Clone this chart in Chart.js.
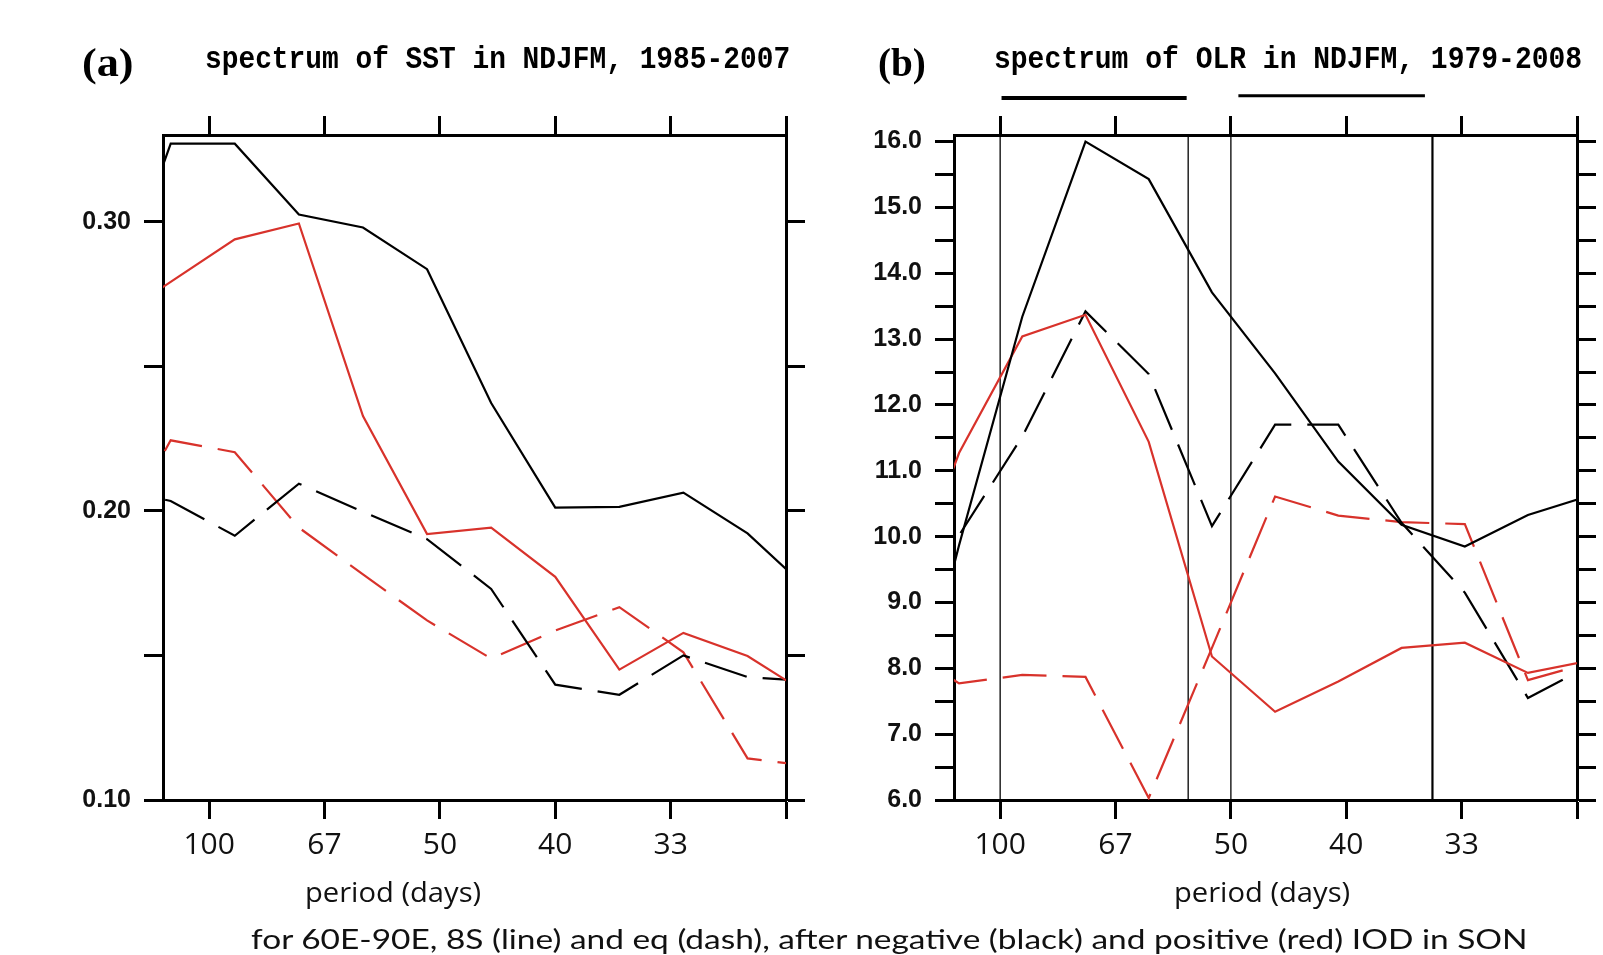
<!DOCTYPE html>
<html>
<head>
<meta charset="utf-8">
<script src="https://cdn.jsdelivr.net/npm/chart.js@4.4.1/dist/chart.umd.min.js"></script>
<style>
  html, body { margin: 0; padding: 0; background: #fff; }
  body { width: 1603px; height: 955px; position: relative; overflow: hidden; }
  .pane { position: absolute; top: 0; height: 955px; }
  #paneA { left: 0; width: 820px; }
  #paneB { left: 820px; width: 783px; }
  .txt { position: absolute; white-space: nowrap; transform-origin: 0 50%; color: #000; height: 40px; line-height: 40px; }
  .lab { font-family: "Liberation Serif"; font-weight: bold; font-size: 40px; }
  .ttl { font-family: "Liberation Mono"; font-weight: bold; font-size: 31px; }
  .axt { font-family: "Open Sans"; font-size: 27px; color: #111; }
  .cap { font-family: "Lato"; font-size: 26px; color: #111; }
</style>
</head>
<body>
<div class="pane" id="paneA"><canvas id="chartA"></canvas></div>
<div class="pane" id="paneB"><canvas id="chartB"></canvas></div>

<div class="txt lab" style="left:82px; top:43px;" data-w="52">(a)</div>
<div class="txt ttl" style="left:205px; top:40px;" data-w="585">spectrum of SST in NDJFM, 1985-2007</div>
<div class="txt lab" style="left:878px; top:43px;" data-w="48">(b)</div>
<div class="txt ttl" style="left:994px; top:40px;" data-w="588">spectrum of OLR in NDJFM, 1979-2008</div>
<div class="txt axt" style="left:305px; top:872px;" data-w="176">period (days)</div>
<div class="txt axt" style="left:1174px; top:872px;" data-w="176">period (days)</div>
<div class="txt cap" style="left:251px; top:919px;" data-w="1277">for 60E-90E, 8S (line) and eq (dash), after negative (black) and positive (red) IOD in SON</div>

<script>
// spectral estimates at harmonics k = 2..13 (periods in days)
const periodsA = [180, 120, 90, 72, 60, 51.43, 45, 40, 36, 32.73, 30, 27.69];
const periodsB = [182.5, 121.67, 91.25, 73, 60.83, 52.14, 45.63, 40.56, 36.5, 33.18, 30.42, 28.08];

// (a) SST
const blackLineA = [0.265, 0.327, 0.327, 0.3025, 0.298, 0.2836, 0.2373, 0.2011, 0.2014, 0.2063, 0.1922, 0.1717];
const blackDashA = [0.2084, 0.2034, 0.1914, 0.2094, 0.1997, 0.1902, 0.1730, 0.1399, 0.1364, 0.1500, 0.1425, 0.1410];
const redLineA = [0.2645, 0.2792, 0.2939, 0.2994, 0.2328, 0.1920, 0.1942, 0.1772, 0.1451, 0.1578, 0.1498, 0.1358];
const redDashA = [0.1844, 0.2244, 0.2203, 0.1942, 0.1780, 0.1621, 0.1489, 0.1586, 0.1667, 0.1511, 0.1144, 0.1116];

// (b) OLR
const blackLineB = [6.1, 9.87, 13.34, 16.0, 15.43, 13.71, 12.48, 11.14, 10.18, 9.85, 10.33, 10.63];
const blackDashB = [8.52, 10.02, 11.52, 13.42, 12.47, 10.16, 11.70, 11.70, 10.21, 9.15, 7.55, 8.05];
const redLineB = [8.70, 11.27, 13.04, 13.37, 11.44, 8.18, 7.34, 7.80, 8.31, 8.39, 7.93, 8.12];
const redDashB = [8.41, 7.77, 7.90, 7.87, 6.03, 8.31, 10.61, 10.32, 10.22, 10.19, 7.82, 8.09];

// axis ticks (frequency in cycles/day, labelled by period)
const xTickFreq = [0.010, 0.015, 0.020, 0.025, 0.030, 0.035];
const xTickLabels = ['100', '67', '50', '40', '33', ''];
const yTicksA = [0.10, 0.15, 0.20, 0.25, 0.30];
const yLabelsA = ['0.10', '', '0.20', '', '0.30'];
const yTicksB = [6.0, 6.5, 7.0, 7.5, 8.0, 8.5, 9.0, 9.5, 10.0, 10.5, 11.0, 11.5, 12.0, 12.5, 13.0, 13.5, 14.0, 14.5, 15.0, 15.5, 16.0];

// significance bands in (b), periods in days
const bandLines = [100, 55.1, 50, 34.8];
const bandLineWidths = [1.3, 1.3, 1.3, 2.2];
const barBands = [[99.4, 55.3], [49.2, 35.2]];

const RED = '#d8322b';

function series(periods, vals, color, dashed) {
  return {
    data: periods.map((p, i) => ({ x: 1 / p, y: vals[i] })),
    borderColor: color,
    borderWidth: 2.2,
    borderDash: dashed ? [44, 16] : [],
    pointRadius: 0,
    tension: 0,
    clip: 0,
    fill: false
  };
}

function axes(yMin, yMax, yTicks, yLabel, leftW, rightW) {
  const grid = { display: true, drawOnChartArea: false, drawTicks: true, tickLength: 19, tickWidth: 3, tickColor: '#000' };
  const border = { display: true, color: '#000', width: 3 };
  const setTicks = vals => s => { s.ticks = vals.map(v => ({ value: v })); };
  const xBase = { type: 'linear', display: true, min: 0.008, max: 0.035, grid, border, afterBuildTicks: setTicks(xTickFreq) };
  const yBase = { type: 'linear', display: true, min: yMin, max: yMax, grid, border, afterBuildTicks: setTicks(yTicks) };
  return {
    x: Object.assign({}, xBase, {
      position: 'bottom',
      ticks: { padding: 8, color: '#111', font: { family: "'Liberation Sans Narrow', 'Open Sans'", size: 30 }, maxRotation: 0, autoSkip: false,
               callback: (v, i) => xTickLabels[i] },
      afterFit: s => { s.height = 155; }
    }),
    xTop: Object.assign({}, xBase, {
      position: 'top', ticks: { display: false },
      afterFit: s => { s.height = 135; }
    }),
    y: Object.assign({}, yBase, {
      position: 'left',
      ticks: { padding: 13, color: '#111', font: { family: 'Liberation Sans', size: 25, weight: 'bold' }, autoSkip: false,
               callback: (v, i) => yLabel(v, i) },
      afterFit: s => { s.width = leftW; }
    }),
    yRight: Object.assign({}, yBase, {
      position: 'right', ticks: { display: false },
      afterFit: s => { s.width = rightW; }
    })
  };
}

const baseOptions = {
  responsive: true,
  maintainAspectRatio: false,
  animation: false,
  events: [],
  layout: { padding: 0 },
  plugins: { legend: { display: false }, tooltip: { enabled: false } }
};

new Chart(document.getElementById('chartA'), {
  type: 'line',
  data: {
    datasets: [
      series(periodsA, blackLineA, '#000', false),
      series(periodsA, redLineA, RED, false),
      series(periodsA, blackDashA, '#000', true),
      series(periodsA, redDashA, RED, true)
    ]
  },
  options: Object.assign({}, baseOptions, {
    scales: axes(0.10, 0.33, yTicksA, (v, i) => yLabelsA[i], 163, 34)
  })
});

// bars above panel (b) marking the significant bands
const bandBarsPlugin = {
  id: 'bandBars',
  afterDraw(chart) {
    const { ctx, scales: { x } } = chart;
    const barY = [98, 95.7];
    const barW = [4, 3];
    ctx.save();
    ctx.strokeStyle = '#000';
    ctx.lineCap = 'butt';
    barBands.forEach((b, i) => {
      ctx.lineWidth = barW[i];
      ctx.beginPath();
      ctx.moveTo(x.getPixelForValue(1 / b[0]), barY[i]);
      ctx.lineTo(x.getPixelForValue(1 / b[1]), barY[i]);
      ctx.stroke();
    });
    ctx.restore();
  }
};

const bandLineSets = bandLines.map((p, i) => ({
  data: [{ x: 1 / p, y: 6.0 }, { x: 1 / p, y: 16.1 }],
  borderColor: '#000',
  borderWidth: bandLineWidths[i],
  pointRadius: 0,
  clip: 0,
  fill: false
}));

new Chart(document.getElementById('chartB'), {
  type: 'line',
  data: {
    datasets: [
      series(periodsB, blackLineB, '#000', false),
      series(periodsB, redLineB, RED, false),
      series(periodsB, blackDashB, '#000', true),
      series(periodsB, redDashB, RED, true)
    ].concat(bandLineSets)
  },
  options: Object.assign({}, baseOptions, {
    scales: axes(6.0, 16.1, yTicksB, v => (Math.abs(v - Math.round(v)) < 1e-6 ? v.toFixed(1) : ''), 134, 26)
  }),
  plugins: [bandBarsPlugin]
});

// squeeze the html labels to the widths they take in the figure
function fitText() {
  document.querySelectorAll('.txt').forEach(el => {
    const w = +el.dataset.w;
    el.style.transform = 'scaleX(' + (w / el.scrollWidth) + ')';
  });
}
fitText();
if (document.fonts) document.fonts.ready.then(fitText);
</script>
</body>
</html>
